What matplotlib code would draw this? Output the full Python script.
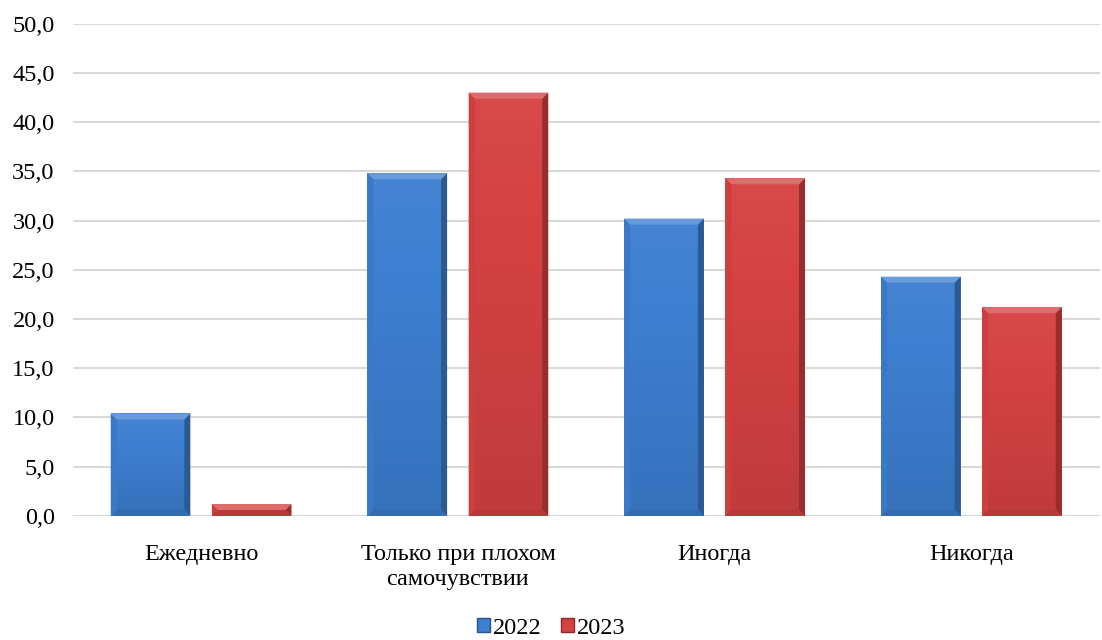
import matplotlib.pyplot as plt
from matplotlib.patches import Polygon, Patch
from matplotlib.colors import to_rgb
import numpy as np

categories = ['Ежедневно', 'Только при плохом\nсамочувствии', 'Иногда', 'Никогда']
years = ['2022', '2023']
vals_2022 = [10.4, 34.8, 30.2, 24.3]
vals_2023 = [1.2, 43.0, 34.3, 21.2]

colors = ['#3d7fd1', '#d64242']

plt.rcParams['font.family'] = ['Liberation Serif', 'DejaVu Serif']

fig = plt.figure(figsize=(11.02, 6.4), dpi=100)
ax = fig.add_axes([0.066, 0.194, 0.932, 0.769])

x = np.arange(len(categories))
width = 0.31
offset = 0.197
ax.set_xlim(-0.5, len(categories) - 0.5)
ax.set_ylim(0, 50)

# data units per pixel, for the bevel edges
bbox = ax.get_window_extent()
dx = (len(categories)) / bbox.width
dy = 50 / bbox.height


def shade(c, f):
    r = np.array(to_rgb(c))
    if f > 0:
        return tuple(r + (1 - r) * f)
    return tuple(r * (1 + f))


def bevel(rect, color):
    x0, y0 = rect.get_x(), rect.get_y()
    x1, y1 = x0 + rect.get_width(), y0 + rect.get_height()
    bw = 6 * dx
    bh = min(6 * dy, (y1 - y0) / 2)
    top = [(x0, y1), (x1, y1), (x1 - bw, y1 - bh), (x0 + bw, y1 - bh)]
    right = [(x1, y1), (x1, y0), (x1 - bw, y0 + bh), (x1 - bw, y1 - bh)]
    left = [(x0, y1), (x0, y0), (x0 + bw, y0 + bh), (x0 + bw, y1 - bh)]
    bottom = [(x0, y0), (x1, y0), (x1 - bw, y0 + bh), (x0 + bw, y0 + bh)]
    for pts, f in [(left, -0.05), (right, -0.3), (bottom, -0.15), (top, 0.22)]:
        ax.add_patch(Polygon(pts, closed=True, facecolor=shade(color, f),
                             edgecolor='none', zorder=4))
    # soft gradient over the body
    grad = np.linspace(0.04, -0.1, 50)
    img = np.array([[shade(color, g)] for g in grad[::-1]])
    ax.imshow(img, extent=(x0 + bw, x1 - bw, y0 + bh, y1 - bh),
              aspect='auto', zorder=3.5, interpolation='bicubic', origin='lower')


bars_a = ax.bar(x - offset, vals_2022, width, color=colors[0], zorder=3)
bars_b = ax.bar(x + offset, vals_2023, width, color=colors[1], zorder=3)
for bars, c in [(bars_a, colors[0]), (bars_b, colors[1])]:
    for r in bars:
        bevel(r, c)

ax.set_xlim(-0.5, len(categories) - 0.5)
ax.set_ylim(0, 50)
ax.set_yticks(np.arange(0, 50.1, 5))
ax.set_yticklabels([f'{v:.1f}'.replace('.', ',') for v in np.arange(0, 50.1, 5)])
ax.set_xticks(x)
ax.set_xticklabels(categories, linespacing=1.3)
ax.tick_params(axis='both', length=0, labelsize=17.5, colors='black')
ax.tick_params(axis='y', pad=13)
ax.tick_params(axis='x', pad=20)
ax.yaxis.grid(True, color='#d9d9d9', linewidth=1.5, zorder=0)
ax.set_axisbelow(True)
for s in ax.spines.values():
    s.set_visible(False)
ax.axhline(0, color='#d9d9d9', linewidth=1.5, zorder=2)

handles = [Patch(facecolor=c, edgecolor=shade(c, -0.35)) for c in colors]
fig.legend(handles, years, loc='lower center', bbox_to_anchor=(0.5, -0.032),
           ncol=2, frameon=False, fontsize=17.5, handlelength=0.55,
           handleheight=0.55, handletextpad=0.1, columnspacing=0.8)

fig.savefig('out.png', dpi=100)
